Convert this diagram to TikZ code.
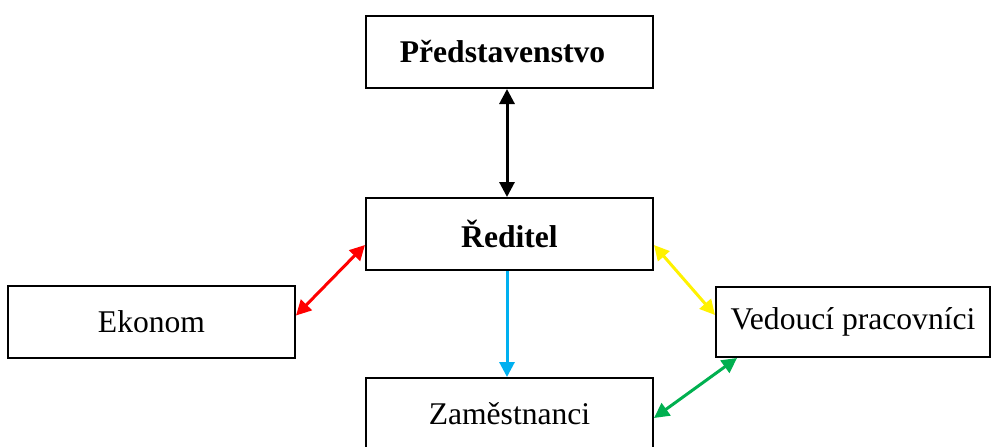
\documentclass[tikz,border=0pt]{standalone}
\usepackage{fontspec}
\setmainfont{Liberation Serif}
\usepackage{xcolor}
\usetikzlibrary{arrows.meta}
\usetikzlibrary{positioning}

\definecolor{arrowcyan}{HTML}{00B0F0}
\definecolor{arrowgreen}{HTML}{00B050}

\begin{document}
\begin{tikzpicture}[x=0.5pt,y=-0.5pt,
    box/.style={draw, line width=1pt, minimum width=143.5pt, minimum height=36pt,
                inner sep=0pt, font=\fontsize{15.8}{18}\selectfont},
    link/.style={line width=1.5pt, {Triangle[length=7.5pt,width=7.5pt]}-{Triangle[length=7.5pt,width=7.5pt]}},
    every node/.style={anchor=center}]
            \useasboundingbox (0,0) rectangle (992,446);
            \clip (0,0) rectangle (992,446);

            % the boxes
            \node[box] (board) at (509.5,52) {\bfseries Představenstvo\hspace*{7pt}};
            \node[box] (director) at (509.5,234) {\bfseries Ředitel};
            \node[box] (economist) at (151.5,321.5) {Ekonom};
            \node[box, minimum width=137pt, minimum height=35pt] (leaders) at (853,322) {Vedoucí pracovníci};
            \node[box] (staff) at (509.5,414) {Zaměstnanci};

            % the arrows
            \draw[link] ([xshift=-1.25pt]board.south) -- ([xshift=-1.25pt]director.north);
            \draw[link, red] ([yshift=3pt]economist.east) -- ([yshift=-5.5pt]director.west);
            \draw[link, yellow] ([yshift=-5.5pt]director.east) -- ([yshift=3.5pt]leaders.west);
            \draw[link, arrowgreen] ([yshift=-2pt]staff.east) -- ([xshift=11pt]leaders.south west);
            \draw[line width=1.5pt, arrowcyan, -{Triangle[length=7.5pt,width=7.5pt]}]
              ([xshift=-1.25pt]director.south) -- ([xshift=-1.25pt]staff.north);
        \end{tikzpicture}
\end{document}
